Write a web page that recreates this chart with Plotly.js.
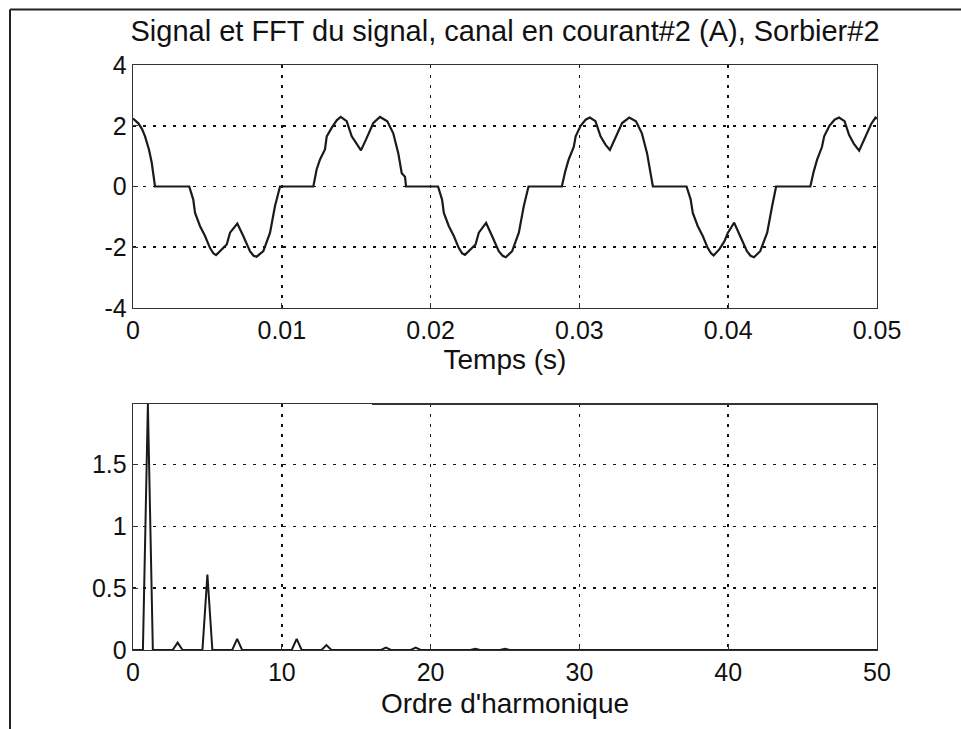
<!DOCTYPE html>
<html>
<head>
<meta charset="utf-8">
<script src="https://cdn.plot.ly/plotly-3.0.1.min.js"></script>
<style>html,body{margin:0;padding:0;background:#fff;}</style>
</head>
<body>
<div id="chart" style="width:961px;height:729px;"></div>
<script>
// Signal (time in s, current in A)
const timeS = [
  0.00000, 0.00036, 0.00060, 0.00081, 0.00108, 0.00126, 0.00148, 0.00200, 0.00260, 0.00320,
  0.00378, 0.00405, 0.00417, 0.00450, 0.00484, 0.00517, 0.00540, 0.00558, 0.00596, 0.00630,
  0.00652, 0.00680, 0.00701, 0.00741, 0.00786, 0.00810, 0.00831, 0.00876, 0.00921, 0.00954,
  0.00988, 0.01050, 0.01120, 0.01212, 0.01234, 0.01257, 0.01290, 0.01302, 0.01335, 0.01369,
  0.01396, 0.01436, 0.01470, 0.01503, 0.01532, 0.01571, 0.01615, 0.01660, 0.01709, 0.01749,
  0.01783, 0.01806, 0.01828, 0.01835, 0.01900, 0.01980, 0.02050, 0.02077, 0.02089, 0.02122,
  0.02156, 0.02189, 0.02212, 0.02231, 0.02268, 0.02302, 0.02324, 0.02352, 0.02373, 0.02413,
  0.02458, 0.02484, 0.02505, 0.02548, 0.02593, 0.02626, 0.02658, 0.02720, 0.02800, 0.02882,
  0.02905, 0.02928, 0.02962, 0.02975, 0.03008, 0.03042, 0.03070, 0.03108, 0.03142, 0.03175,
  0.03205, 0.03243, 0.03287, 0.03335, 0.03380, 0.03420, 0.03455, 0.03478, 0.03488, 0.03494,
  0.03560, 0.03640, 0.03720, 0.03748, 0.03762, 0.03795, 0.03829, 0.03862, 0.03885, 0.03902,
  0.03940, 0.03975, 0.03998, 0.04020, 0.04040, 0.04080, 0.04126, 0.04150, 0.04173, 0.04215,
  0.04262, 0.04295, 0.04322, 0.04400, 0.04480, 0.04552, 0.04575, 0.04598, 0.04630, 0.04645,
  0.04680, 0.04715, 0.04745, 0.04782, 0.04812, 0.04845, 0.04880, 0.04918, 0.04960, 0.04990,
  0.05000
];
const currentA = [
  2.24, 2.08, 1.90, 1.65, 1.20, 0.78, 0.00, 0.00, 0.01, 0.00,
  0.00, -0.43, -0.87, -1.30, -1.63, -2.02, -2.20, -2.26, -2.07, -1.91,
  -1.52, -1.35, -1.22, -1.63, -2.13, -2.28, -2.31, -2.13, -1.52, -0.65,
  0.00, 0.00, 0.00, 0.00, 0.56, 0.89, 1.22, 1.65, 1.93, 2.18,
  2.29, 2.15, 1.65, 1.38, 1.19, 1.60, 2.09, 2.29, 2.15, 1.75,
  1.09, 0.44, 0.32, 0.00, 0.00, 0.00, 0.00, -0.43, -0.87, -1.30,
  -1.63, -2.02, -2.20, -2.25, -2.07, -1.91, -1.52, -1.35, -1.20, -1.63,
  -2.13, -2.28, -2.33, -2.13, -1.52, -0.65, 0.00, 0.00, 0.00, 0.00,
  0.50, 0.89, 1.30, 1.65, 2.00, 2.20, 2.27, 2.15, 1.65, 1.38,
  1.20, 1.60, 2.09, 2.27, 2.15, 1.75, 1.09, 0.44, 0.20, 0.00,
  0.00, 0.00, 0.00, -0.43, -0.87, -1.30, -1.63, -2.02, -2.20, -2.27,
  -2.07, -1.80, -1.52, -1.35, -1.19, -1.63, -2.13, -2.28, -2.33, -2.13,
  -1.52, -0.65, 0.00, 0.00, 0.00, 0.00, 0.50, 0.89, 1.30, 1.65,
  2.00, 2.20, 2.27, 2.15, 1.70, 1.40, 1.18, 1.60, 2.05, 2.27,
  2.24
];

// FFT magnitude vs harmonic order
const harmonicOrder = [0, 0.667, 1, 1.333, 2.667, 3, 3.333, 4.667, 5, 5.333,
  6.667, 7, 7.333, 10.667, 11, 11.333, 12.667, 13, 13.333, 16.667,
  17, 17.333, 18.667, 19, 19.333, 22.667, 23, 23.333, 24.667, 25, 25.333, 50];
const fftMagnitude = [0, 0, 1.99, 0, 0, 0.06, 0, 0, 0.61, 0,
  0, 0.09, 0, 0, 0.09, 0, 0, 0.04, 0, 0,
  0.02, 0, 0, 0.02, 0, 0, 0.01, 0, 0, 0.01, 0, 0];

const timeTicks = [0, 0.01, 0.02, 0.03, 0.04, 0.05];
const timeTickText = ["0", "0.01", "0.02", "0.03", "0.04", "0.05"];
const currentTicks = [-4, -2, 0, 2, 4];
const currentTickText = ["-4", "-2", "0", "2", "4"];
const orderTicks = [0, 10, 20, 30, 40, 50];
const orderTickText = ["0", "10", "20", "30", "40", "50"];
const magTicks = [0, 0.5, 1, 1.5];
const magTickText = ["0", "0.5", "1", "1.5"];

const FONT = "Liberation Sans, Arial, Helvetica, sans-serif";
const FS = 25;
const FT = 28;

const traces = [
  {x: timeS, y: currentA, type: "scatter", mode: "lines",
   line: {color: "#1a1a1a", width: 2.2}, xaxis: "x", yaxis: "y", hoverinfo: "skip"},
  {x: harmonicOrder, y: fftMagnitude, type: "scatter", mode: "lines",
   line: {color: "#1a1a1a", width: 2}, xaxis: "x2", yaxis: "y2", hoverinfo: "skip"}
];

function axisBase() {
  return {
    showline: true, mirror: true, linecolor: "#333", linewidth: 1.3,
    ticks: "inside", ticklen: 5, tickcolor: "#333",
    showgrid: true, gridcolor: "#111", gridwidth: 1.6, griddash: "3px,7px",
    zeroline: false, automargin: false,
    tickfont: {family: FONT, size: FS, color: "#111"}
  };
}

const layout = {
  width: 961, height: 729,
  margin: {l: 133, r: 84, t: 65, b: 79},
  paper_bgcolor: "#fff", plot_bgcolor: "#fff",
  showlegend: false,
  font: {family: FONT, size: FS, color: "#111"},
  title: {text: "Signal et FFT du signal, canal en courant#2 (A), Sorbier#2",
          font: {family: FONT, size: 29, color: "#111"},
          x: 0.5, xanchor: "center", xref: "paper",
          y: 1 - 31 / 729, yanchor: "middle", yref: "container"},
  xaxis: Object.assign(axisBase(), {
    domain: [0, 1], anchor: "y", range: [0, 0.05],
    tickmode: "array", tickvals: timeTicks, ticktext: timeTickText,
    title: {text: "Temps (s)", font: {family: FONT, size: FT, color: "#111"}, standoff: 4}
  }),
  yaxis: Object.assign(axisBase(), {
    domain: [0.5846, 1], anchor: "x", range: [-4, 4],
    tickmode: "array", tickvals: currentTicks, ticktext: currentTickText
  }),
  xaxis2: Object.assign(axisBase(), {
    domain: [0, 1], anchor: "y2", range: [0, 50],
    tickmode: "array", tickvals: orderTicks, ticktext: orderTickText,
    title: {text: "Ordre d'harmonique", font: {family: FONT, size: FT, color: "#111"}, standoff: 8}
  }),
  yaxis2: Object.assign(axisBase(), {
    domain: [0, 0.4205], anchor: "x2", range: [0, 1.99],
    tickmode: "array", tickvals: magTicks, ticktext: magTickText
  }),
  shapes: [
    {type: "line", xref: "paper", yref: "paper",
     x0: (10 - 133) / 744, x1: (961 - 133) / 744,
     y0: (650 - 9.5) / 585, y1: (650 - 9.5) / 585,
     line: {color: "#222", width: 2}},
    {type: "line", xref: "paper", yref: "paper",
     x0: (10 - 133) / 744, x1: (10 - 133) / 744,
     y0: (650 - 9.5) / 585, y1: (650 - 729) / 585,
     line: {color: "#222", width: 2}},
    {type: "line", xref: "paper", yref: "paper",
     x0: (372 - 133) / 744, x1: 1,
     y0: 0.4205, y1: 0.4205,
     line: {color: "#333", width: 2.2}}
  ]
};

Plotly.newPlot("chart", traces, layout, {staticPlot: true, displayModeBar: false});
</script>
</body>
</html>
